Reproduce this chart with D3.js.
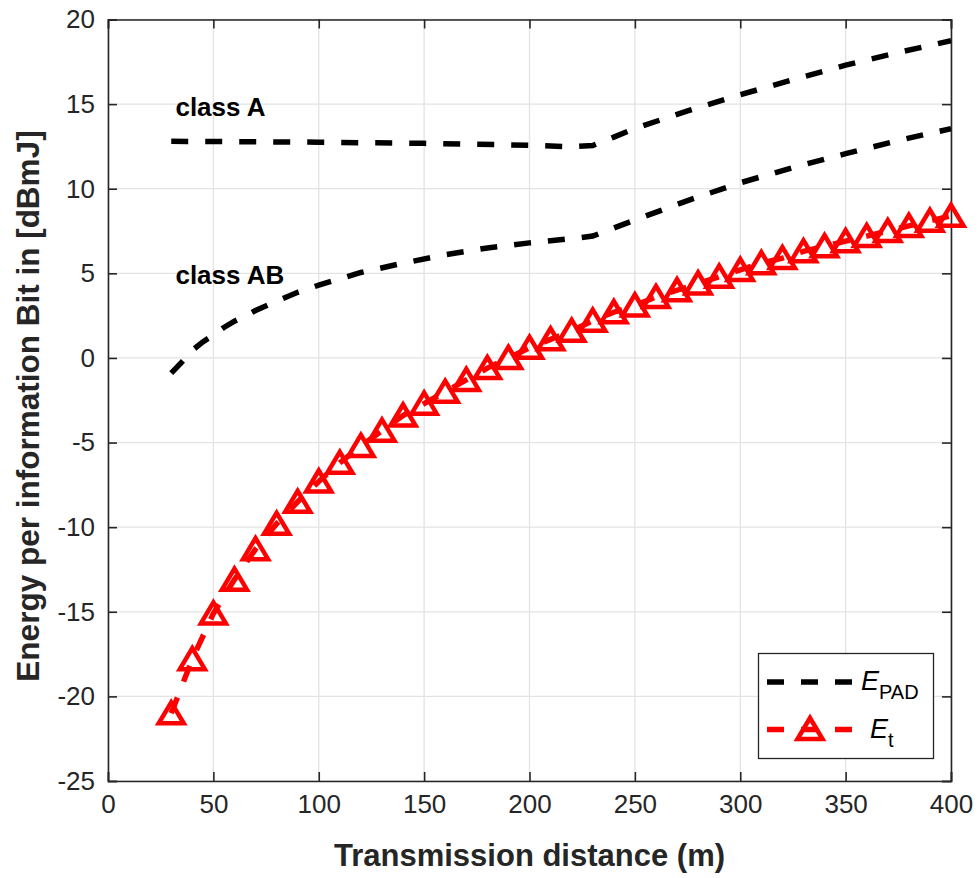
<!DOCTYPE html>
<html>
<head>
<meta charset="utf-8">
<script src="https://cdn.jsdelivr.net/npm/d3@7"></script>
<style>
  html, body { margin: 0; padding: 0; background: #fff; }
  svg { display: block; font-family: "Liberation Sans", Arial, Helvetica, sans-serif; }
</style>
</head>
<body>
<svg id="chart" width="980" height="878"></svg>
<script>
// Transmission distance in metres for each series
const distanceA = [30, 50, 100, 150, 200, 220, 230, 240, 250, 275, 300, 325, 350, 375, 400];
const energyA   = [12.8, 12.79, 12.75, 12.68, 12.57, 12.48, 12.55, 13.05, 13.56, 14.6, 15.55, 16.45, 17.3, 18.05, 18.75];

const distanceAB = [30, 35, 40, 45, 50, 55, 60, 70, 80, 90, 100, 120, 140, 160, 180, 200, 220, 230, 250, 275, 300, 325, 350, 375, 400];
const energyAB   = [-0.9, -0.25, 0.45, 0.95, 1.35, 1.8, 2.17, 2.8, 3.35, 3.88, 4.3, 5.05, 5.6, 6.1, 6.5, 6.8, 7.05, 7.2, 8.15, 9.3, 10.35, 11.25, 12.07, 12.85, 13.55];

// Transmit energy E_t sampled every 10 m
const distanceT = [30, 40, 50, 60, 70, 80, 90, 100, 110, 120, 130, 140, 150, 160, 170, 180, 190, 200, 210, 220,
                   230, 240, 250, 260, 270, 280, 290, 300, 310, 320, 330, 340, 350, 360, 370, 380, 390, 400];
const energyT   = [-21.0, -17.8, -15.1, -13.1, -11.3, -9.8, -8.5, -7.3, -6.2, -5.2, -4.3, -3.4, -2.7, -2.0, -1.3, -0.6, 0.0, 0.6, 1.1, 1.6,
                   2.2, 2.7, 3.1, 3.6, 4.0, 4.4, 4.8, 5.2, 5.6, 5.9, 6.3, 6.6, 6.9, 7.2, 7.5, 7.8, 8.1, 8.4];

const xTicks = [0, 50, 100, 150, 200, 250, 300, 350, 400];
const yTicks = [-25, -20, -15, -10, -5, 0, 5, 10, 15, 20];

const svg = d3.select("#chart");
const pLeft = 108, pTop = 19.5, pRight = 951, pBottom = 781;
const axisColor = "#262626";

const x = d3.scaleLinear().domain([0, 400]).range([pLeft, pRight]);
const y = d3.scaleLinear().domain([-25, 20]).range([pBottom, pTop]);

// plain hyphen-minus tick labels
const fmt = d => String(d);

// grid
const grid = svg.append("g");
grid.selectAll("line.gx").data(xTicks).join("line")
  .attr("x1", d => x(d)).attr("x2", d => x(d)).attr("y1", pTop).attr("y2", pBottom)
  .attr("stroke", "#e3e3e3").attr("stroke-width", 1.3);
grid.selectAll("line.gy").data(yTicks).join("line")
  .attr("y1", d => y(d)).attr("y2", d => y(d)).attr("x1", pLeft).attr("x2", pRight)
  .attr("stroke", "#e3e3e3").attr("stroke-width", 1.3);

// axes with inward ticks, boxed
const tickLen = 9;
const axB = svg.append("g").attr("transform", `translate(0,${pBottom})`)
  .call(d3.axisBottom(x).tickValues(xTicks).tickSize(-tickLen).tickPadding(14).tickFormat(fmt));
const axT = svg.append("g").attr("transform", `translate(0,${pTop})`)
  .call(d3.axisTop(x).tickValues(xTicks).tickSize(-tickLen).tickFormat(""));
const axL = svg.append("g").attr("transform", `translate(${pLeft},0)`)
  .call(d3.axisLeft(y).tickValues(yTicks).tickSize(-tickLen).tickPadding(13).tickFormat(fmt));
const axR = svg.append("g").attr("transform", `translate(${pRight},0)`)
  .call(d3.axisRight(y).tickValues(yTicks).tickSize(-tickLen).tickFormat(""));
[axB, axT, axL, axR].forEach(g => {
  g.select(".domain").attr("stroke", axisColor).attr("stroke-width", 1.6);
  g.selectAll(".tick line").attr("stroke", axisColor).attr("stroke-width", 1.6);
  g.selectAll("text").attr("fill", axisColor).style("font-size", "26px")
    .style("font-family", "'Liberation Sans', Arial, sans-serif");
});
axB.selectAll("text").attr("dy", "0.71em");

// axis titles
svg.append("text").attr("x", (pLeft + pRight) / 2).attr("y", 866)
  .attr("text-anchor", "middle").attr("fill", axisColor)
  .style("font-size", "31px").style("font-weight", "bold")
  .text("Transmission distance (m)");
svg.append("text").attr("transform", `translate(39,406) rotate(-90)`)
  .attr("text-anchor", "middle").attr("fill", axisColor)
  .style("font-size", "31.5px").style("font-weight", "bold")
  .text("Energy per information Bit in [dBmJ]");

// clip to plot area
svg.append("clipPath").attr("id", "plotclip").append("rect")
  .attr("x", pLeft).attr("y", pTop).attr("width", pRight - pLeft).attr("height", pBottom - pTop);

const plot = svg.append("g").attr("clip-path", "url(#plotclip)");
const line = d3.line().x(d => x(d[0])).y(d => y(d[1]));
const dash = "17,17";

plot.append("path").datum(d3.zip(distanceA, energyA)).attr("d", line)
  .attr("fill", "none").attr("stroke", "#000").attr("stroke-width", 5.5).attr("stroke-dasharray", dash);
plot.append("path").datum(d3.zip(distanceAB, energyAB)).attr("d", line)
  .attr("fill", "none").attr("stroke", "#000").attr("stroke-width", 5.5).attr("stroke-dasharray", dash);

const red = "#ff0000";
plot.append("path").datum(d3.zip(distanceT, energyT)).attr("d", line)
  .attr("fill", "none").attr("stroke", red).attr("stroke-width", 5.5).attr("stroke-dasharray", dash);

const tri = "M0,-11L12.5,10L-12.5,10Z";
svg.append("g").selectAll("path").data(d3.zip(distanceT, energyT)).join("path")
  .attr("d", tri).attr("transform", d => `translate(${x(d[0])},${y(d[1])})`)
  .attr("fill", "none").attr("stroke", red).attr("stroke-width", 4.5).attr("stroke-linejoin", "miter");

// curve annotations
svg.append("text").attr("x", x(32)).attr("y", 116).style("font-size", "26px").style("font-weight", "bold")
  .attr("fill", "#000").text("class A");
svg.append("text").attr("x", x(32)).attr("y", 284).style("font-size", "26px").style("font-weight", "bold")
  .attr("fill", "#000").text("class AB");

// legend
const lg = svg.append("g");
lg.append("rect").attr("x", 758.5).attr("y", 653.5).attr("width", 175).attr("height", 105)
  .attr("fill", "#fff").attr("stroke", axisColor).attr("stroke-width", 1.3);
lg.append("line").attr("x1", 767).attr("x2", 853).attr("y1", 682).attr("y2", 682)
  .attr("stroke", "#000").attr("stroke-width", 5.5).attr("stroke-dasharray", dash);
const t1 = lg.append("text").attr("x", 861).attr("y", 690).attr("fill", "#000").style("font-size", "27px");
t1.append("tspan").style("font-style", "italic").text("E");
t1.append("tspan").attr("dy", 9).style("font-size", "20px").text("PAD");
lg.append("line").attr("x1", 767).attr("x2", 853).attr("y1", 729.5).attr("y2", 729.5)
  .attr("stroke", red).attr("stroke-width", 5.5).attr("stroke-dasharray", dash);
lg.append("path").attr("d", tri).attr("transform", "translate(810,729)")
  .attr("fill", "none").attr("stroke", red).attr("stroke-width", 4.5);
const t2 = lg.append("text").attr("x", 870).attr("y", 738).attr("fill", "#000").style("font-size", "27px");
t2.append("tspan").style("font-style", "italic").text("E");
t2.append("tspan").attr("dy", 9).style("font-size", "20px").text("t");
</script>
</body>
</html>
